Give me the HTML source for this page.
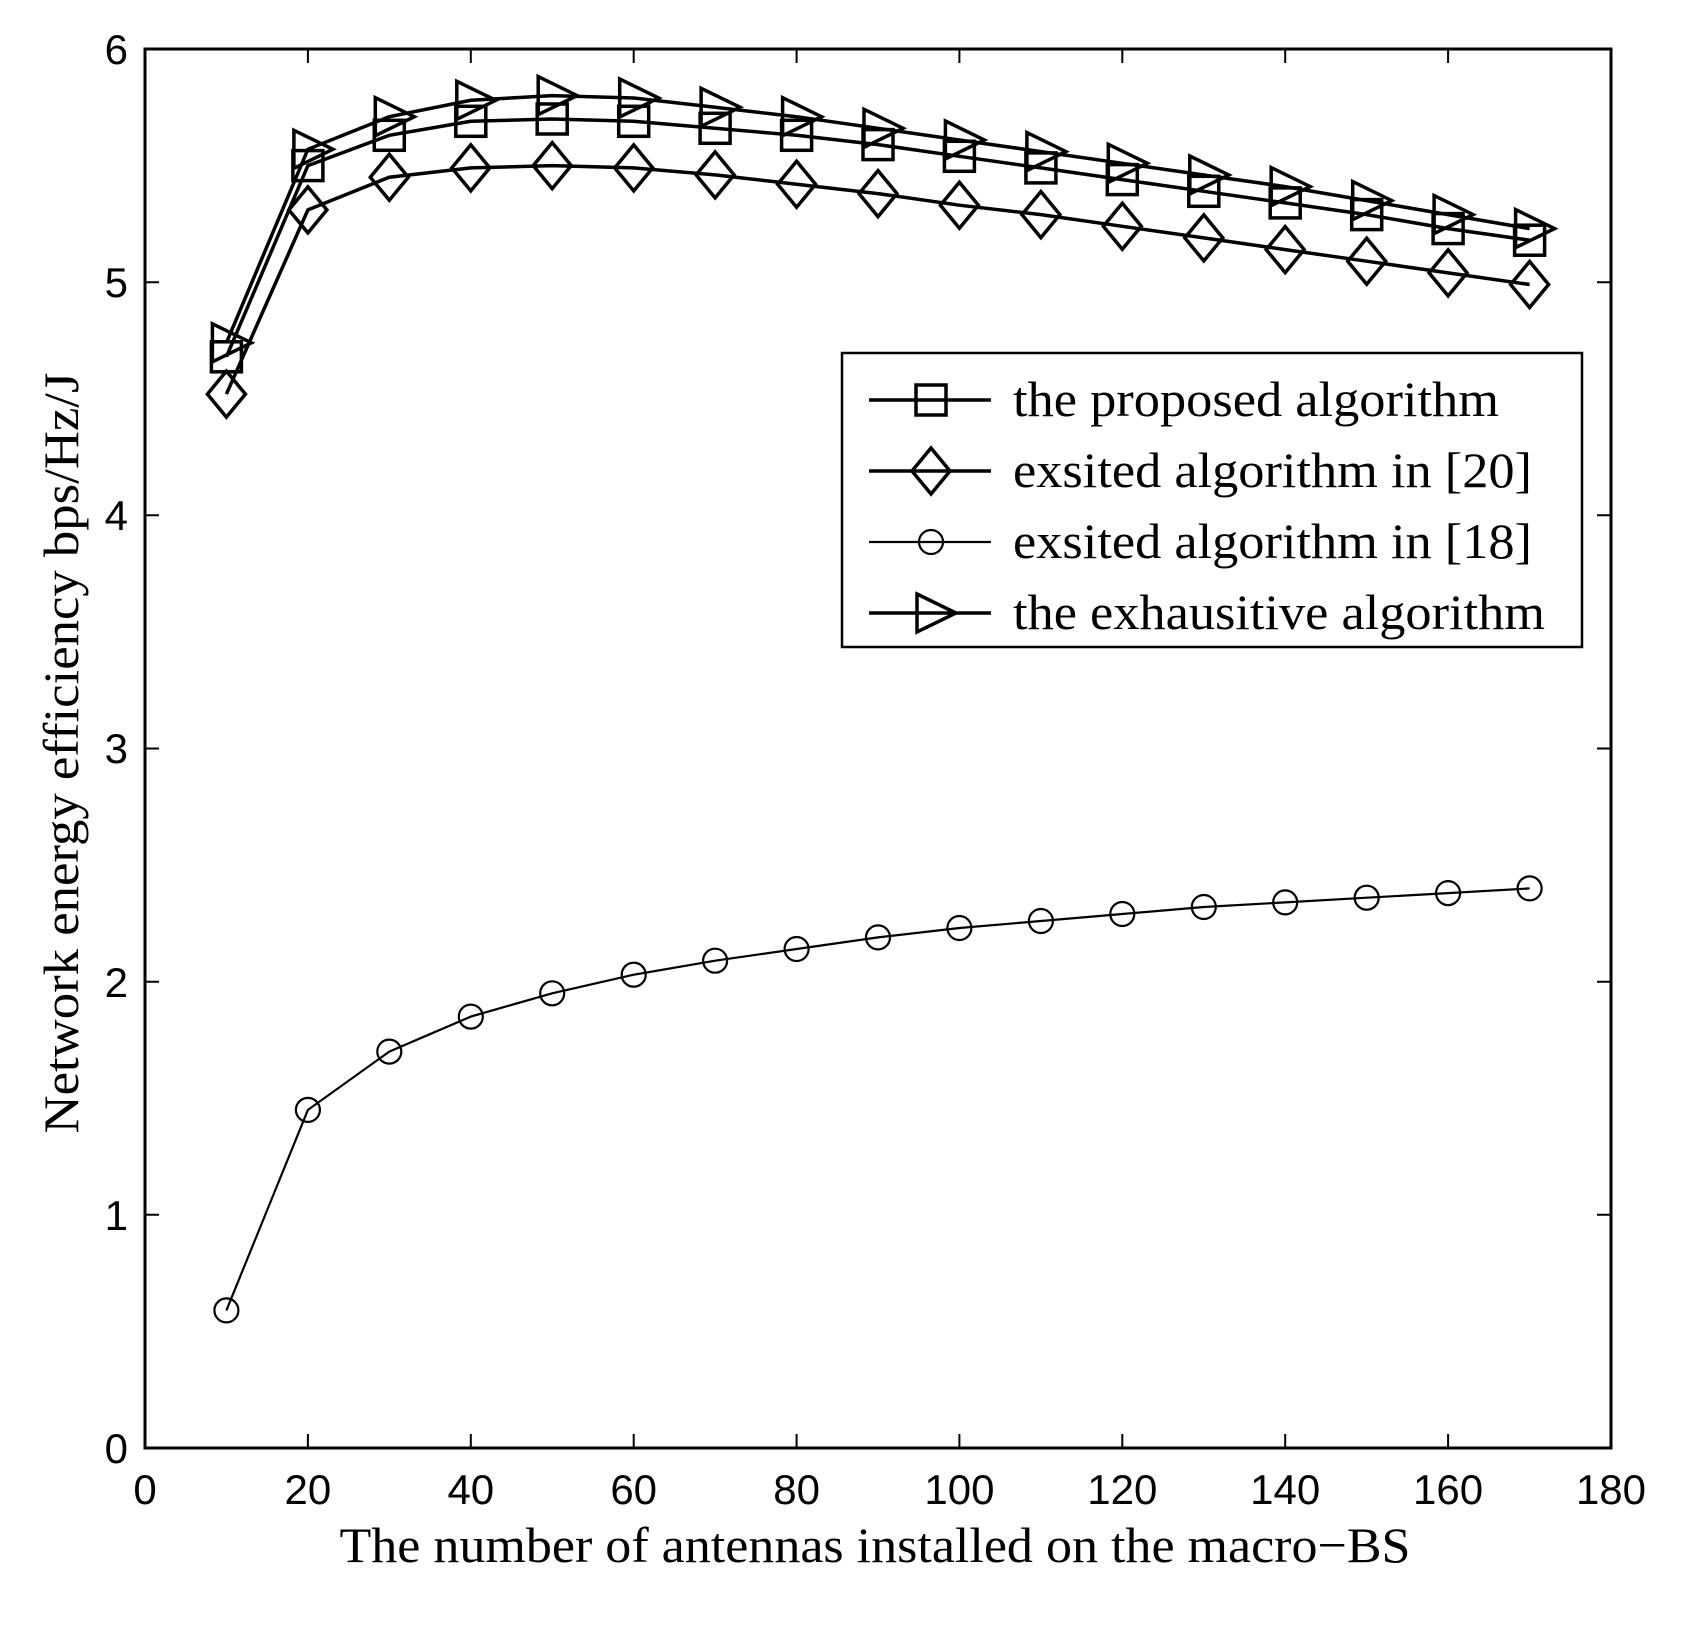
<!DOCTYPE html>
<html><head><meta charset="utf-8"><style>html,body{margin:0;padding:0;background:#fff}</style></head>
<body>
<svg width="1684" height="1620" viewBox="0 0 1684 1620" xmlns="http://www.w3.org/2000/svg">
<defs>
<marker id="msq" markerUnits="userSpaceOnUse" markerWidth="40" markerHeight="40" refX="20" refY="20" overflow="visible"><rect x="5" y="5" width="30" height="30" fill="none" stroke="#000" stroke-width="3.5"/></marker>
<marker id="mdi" markerUnits="userSpaceOnUse" markerWidth="50" markerHeight="50" refX="25" refY="25" overflow="visible"><polygon points="25,2 44,25 25,48 6,25" fill="none" stroke="#000" stroke-width="3.5"/></marker>
<marker id="mci" markerUnits="userSpaceOnUse" markerWidth="30" markerHeight="30" refX="15" refY="15" overflow="visible"><circle cx="15" cy="15" r="12" fill="none" stroke="#000" stroke-width="2.2"/></marker>
<marker id="mtr" markerUnits="userSpaceOnUse" markerWidth="50" markerHeight="50" refX="25" refY="25" overflow="visible"><polygon points="11,6 50,25 11,44" fill="none" stroke="#000" stroke-width="3.5"/></marker>
</defs>
<rect width="1684" height="1620" fill="#fff"/>
<rect x="145" y="49" width="1466" height="1399" fill="none" stroke="#000" stroke-width="3"/>
<g stroke="#000" stroke-width="2">
<path d="M307.9 1448v-14M470.8 1448v-14M633.7 1448v-14M796.6 1448v-14M959.4 1448v-14M1122.3 1448v-14M1285.2 1448v-14M1448.1 1448v-14"/>
<path d="M307.9 49v14M470.8 49v14M633.7 49v14M796.6 49v14M959.4 49v14M1122.3 49v14M1285.2 49v14M1448.1 49v14"/>
<path d="M145 1214.8h14M145 981.7h14M145 748.5h14M145 515.3h14M145 282.2h14"/>
<path d="M1611 1214.8h-14M1611 981.7h-14M1611 748.5h-14M1611 515.3h-14M1611 282.2h-14"/>
</g>
<g style="font-family:'Liberation Sans',sans-serif" font-size="42" text-anchor="middle">
<text x="145" y="1504">0</text><text x="307.9" y="1504">20</text><text x="470.8" y="1504">40</text><text x="633.7" y="1504">60</text><text x="796.6" y="1504">80</text><text x="959.4" y="1504">100</text><text x="1122.3" y="1504">120</text><text x="1285.2" y="1504">140</text><text x="1448.1" y="1504">160</text><text x="1611" y="1504">180</text>
</g>
<g style="font-family:'Liberation Sans',sans-serif" font-size="42" text-anchor="end">
<text x="128" y="1463">0</text><text x="128" y="1230">1</text><text x="128" y="997">2</text><text x="128" y="763">3</text><text x="128" y="530">4</text><text x="128" y="297">5</text><text x="128" y="64">6</text>
</g>
<g fill="none" stroke="#000">
<polyline stroke-width="2.2" marker-start="url(#mci)" marker-mid="url(#mci)" marker-end="url(#mci)" points="226.4,1310.4 307.9,1109.9 389.3,1051.6 470.8,1016.6 552.2,993.3 633.7,974.7 715.1,960.7 796.6,949.0 878.0,937.4 959.4,928.0 1040.9,921.0 1122.3,914.0 1203.8,907.0 1285.2,902.4 1366.7,897.7 1448.1,893.1 1529.6,888.4"/>
<polyline stroke-width="3.5" marker-start="url(#mdi)" marker-mid="url(#mdi)" marker-end="url(#mdi)" points="226.4,394.1 307.9,209.9 389.3,177.2 470.8,167.9 552.2,165.6 633.7,167.9 715.1,174.9 796.6,184.2 878.0,193.6 959.4,205.2 1040.9,214.6 1122.3,226.3 1203.8,237.9 1285.2,249.6 1366.7,261.2 1448.1,272.9 1529.6,284.5"/>
<polyline stroke-width="3.5" marker-start="url(#msq)" marker-mid="url(#msq)" marker-end="url(#msq)" points="226.4,356.8 307.9,165.6 389.3,135.3 470.8,121.3 552.2,119.0 633.7,121.3 715.1,128.3 796.6,135.3 878.0,144.6 959.4,156.3 1040.9,167.9 1122.3,179.6 1203.8,191.3 1285.2,202.9 1366.7,214.6 1448.1,228.6 1529.6,240.2"/>
<polyline stroke-width="3.5" marker-start="url(#mtr)" marker-mid="url(#mtr)" marker-end="url(#mtr)" points="226.4,342.8 307.9,149.3 389.3,116.7 470.8,100.3 552.2,95.6 633.7,98.0 715.1,107.3 796.6,116.7 878.0,128.3 959.4,140.0 1040.9,151.6 1122.3,163.3 1203.8,175.0 1285.2,186.6 1366.7,200.6 1448.1,214.6 1529.6,228.6"/>
</g>
<rect x="842" y="353" width="740" height="294" fill="#fff" stroke="#000" stroke-width="2.5"/>
<g fill="none" stroke="#000">
<polyline stroke-width="3.5" marker-mid="url(#msq)" points="869,400 931,400 991,400"/>
<polyline stroke-width="3.5" marker-mid="url(#mdi)" points="869,471 931,471 991,471"/>
<polyline stroke-width="2.2" marker-mid="url(#mci)" points="869,542 931,542 991,542"/>
<polyline stroke-width="3.5" marker-mid="url(#mtr)" points="869,613 931,613 991,613"/>
</g>
<g style="font-family:'Liberation Serif','Times New Roman',serif" font-size="50">
<text x="1013" y="416" textLength="486" lengthAdjust="spacingAndGlyphs">the proposed algorithm</text>
<text x="1013" y="487" textLength="519" lengthAdjust="spacingAndGlyphs">exsited algorithm in [20]</text>
<text x="1013" y="558" textLength="519" lengthAdjust="spacingAndGlyphs">exsited algorithm in [18]</text>
<text x="1013" y="629" textLength="532" lengthAdjust="spacingAndGlyphs">the exhausitive algorithm</text>
<text x="875" y="1562" text-anchor="middle" textLength="1071" lengthAdjust="spacingAndGlyphs">The number of antennas installed on the macro−BS</text>
<text transform="translate(78,753) rotate(-90)" text-anchor="middle" textLength="761" lengthAdjust="spacingAndGlyphs">Network energy efficiency bps/Hz/J</text>
</g>
</svg>
</body></html>
